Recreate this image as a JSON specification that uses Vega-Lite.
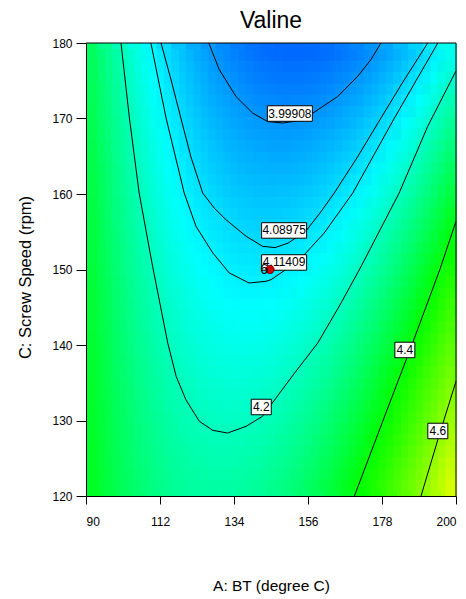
{
"$schema":"https://vega.github.io/schema/vega-lite/v6.json",
"width":370,"height":453,
"autosize":{"type":"none"},
"padding":{"left":86,"top":43,"right":10,"bottom":103},
"background":"white",
"title":{"text":"Valine","fontSize":23,"font":"Liberation Sans","fontWeight":"normal","color":"black","anchor":"middle","offset":4},
"config":{"font":"Liberation Sans","view":{"stroke":null},"axis":{"grid":false,"domainColor":"black","tickColor":"black","labelColor":"black","titleColor":"black","titleFontWeight":"normal","labelFont":"Liberation Sans","titleFont":"Liberation Sans"}},
"datasets":{
"grid":[
{"A":90,"C":120,"v":4.361},{"A":94.4,"C":120,"v":4.331},{"A":98.8,"C":120,"v":4.304},{"A":103.2,"C":120,"v":4.281},{"A":107.6,"C":120,"v":4.263},{"A":112,"C":120,"v":4.247},{"A":116.4,"C":120,"v":4.236},{"A":120.8,"C":120,"v":4.229},{"A":125.2,"C":120,"v":4.225},{"A":129.6,"C":120,"v":4.225},{"A":134,"C":120,"v":4.229},{"A":138.4,"C":120,"v":4.237},{"A":142.8,"C":120,"v":4.249},{"A":147.2,"C":120,"v":4.265},{"A":151.6,"C":120,"v":4.284},{"A":156,"C":120,"v":4.307},{"A":160.4,"C":120,"v":4.335},{"A":164.8,"C":120,"v":4.366},{"A":169.2,"C":120,"v":4.400},{"A":173.6,"C":120,"v":4.439},{"A":178,"C":120,"v":4.481},{"A":182.4,"C":120,"v":4.528},{"A":186.8,"C":120,"v":4.578},{"A":191.2,"C":120,"v":4.632},{"A":195.6,"C":120,"v":4.690},
{"A":90,"C":123,"v":4.360},{"A":94.4,"C":123,"v":4.328},{"A":98.8,"C":123,"v":4.301},{"A":103.2,"C":123,"v":4.277},{"A":107.6,"C":123,"v":4.257},{"A":112,"C":123,"v":4.241},{"A":116.4,"C":123,"v":4.228},{"A":120.8,"C":123,"v":4.220},{"A":125.2,"C":123,"v":4.215},{"A":129.6,"C":123,"v":4.214},{"A":134,"C":123,"v":4.217},{"A":138.4,"C":123,"v":4.224},{"A":142.8,"C":123,"v":4.235},{"A":147.2,"C":123,"v":4.249},{"A":151.6,"C":123,"v":4.268},{"A":156,"C":123,"v":4.290},{"A":160.4,"C":123,"v":4.316},{"A":164.8,"C":123,"v":4.346},{"A":169.2,"C":123,"v":4.380},{"A":173.6,"C":123,"v":4.417},{"A":178,"C":123,"v":4.459},{"A":182.4,"C":123,"v":4.504},{"A":186.8,"C":123,"v":4.553},{"A":191.2,"C":123,"v":4.606},{"A":195.6,"C":123,"v":4.663},
{"A":90,"C":126,"v":4.358},{"A":94.4,"C":126,"v":4.326},{"A":98.8,"C":126,"v":4.297},{"A":103.2,"C":126,"v":4.272},{"A":107.6,"C":126,"v":4.251},{"A":112,"C":126,"v":4.234},{"A":116.4,"C":126,"v":4.220},{"A":120.8,"C":126,"v":4.211},{"A":125.2,"C":126,"v":4.205},{"A":129.6,"C":126,"v":4.203},{"A":134,"C":126,"v":4.205},{"A":138.4,"C":126,"v":4.211},{"A":142.8,"C":126,"v":4.220},{"A":147.2,"C":126,"v":4.234},{"A":151.6,"C":126,"v":4.251},{"A":156,"C":126,"v":4.272},{"A":160.4,"C":126,"v":4.297},{"A":164.8,"C":126,"v":4.326},{"A":169.2,"C":126,"v":4.359},{"A":173.6,"C":126,"v":4.396},{"A":178,"C":126,"v":4.436},{"A":182.4,"C":126,"v":4.480},{"A":186.8,"C":126,"v":4.528},{"A":191.2,"C":126,"v":4.580},{"A":195.6,"C":126,"v":4.636},
{"A":90,"C":129,"v":4.356},{"A":94.4,"C":129,"v":4.323},{"A":98.8,"C":129,"v":4.293},{"A":103.2,"C":129,"v":4.267},{"A":107.6,"C":129,"v":4.245},{"A":112,"C":129,"v":4.226},{"A":116.4,"C":129,"v":4.212},{"A":120.8,"C":129,"v":4.201},{"A":125.2,"C":129,"v":4.195},{"A":129.6,"C":129,"v":4.192},{"A":134,"C":129,"v":4.193},{"A":138.4,"C":129,"v":4.197},{"A":142.8,"C":129,"v":4.206},{"A":147.2,"C":129,"v":4.218},{"A":151.6,"C":129,"v":4.235},{"A":156,"C":129,"v":4.255},{"A":160.4,"C":129,"v":4.279},{"A":164.8,"C":129,"v":4.307},{"A":169.2,"C":129,"v":4.338},{"A":173.6,"C":129,"v":4.374},{"A":178,"C":129,"v":4.413},{"A":182.4,"C":129,"v":4.456},{"A":186.8,"C":129,"v":4.503},{"A":191.2,"C":129,"v":4.554},{"A":195.6,"C":129,"v":4.609},
{"A":90,"C":132,"v":4.354},{"A":94.4,"C":132,"v":4.320},{"A":98.8,"C":132,"v":4.289},{"A":103.2,"C":132,"v":4.262},{"A":107.6,"C":132,"v":4.238},{"A":112,"C":132,"v":4.219},{"A":116.4,"C":132,"v":4.204},{"A":120.8,"C":132,"v":4.192},{"A":125.2,"C":132,"v":4.184},{"A":129.6,"C":132,"v":4.180},{"A":134,"C":132,"v":4.180},{"A":138.4,"C":132,"v":4.184},{"A":142.8,"C":132,"v":4.191},{"A":147.2,"C":132,"v":4.203},{"A":151.6,"C":132,"v":4.218},{"A":156,"C":132,"v":4.237},{"A":160.4,"C":132,"v":4.260},{"A":164.8,"C":132,"v":4.286},{"A":169.2,"C":132,"v":4.317},{"A":173.6,"C":132,"v":4.351},{"A":178,"C":132,"v":4.390},{"A":182.4,"C":132,"v":4.432},{"A":186.8,"C":132,"v":4.478},{"A":191.2,"C":132,"v":4.528},{"A":195.6,"C":132,"v":4.581},
{"A":90,"C":135,"v":4.351},{"A":94.4,"C":135,"v":4.316},{"A":98.8,"C":135,"v":4.284},{"A":103.2,"C":135,"v":4.256},{"A":107.6,"C":135,"v":4.232},{"A":112,"C":135,"v":4.211},{"A":116.4,"C":135,"v":4.195},{"A":120.8,"C":135,"v":4.182},{"A":125.2,"C":135,"v":4.173},{"A":129.6,"C":135,"v":4.168},{"A":134,"C":135,"v":4.167},{"A":138.4,"C":135,"v":4.170},{"A":142.8,"C":135,"v":4.176},{"A":147.2,"C":135,"v":4.187},{"A":151.6,"C":135,"v":4.201},{"A":156,"C":135,"v":4.219},{"A":160.4,"C":135,"v":4.241},{"A":164.8,"C":135,"v":4.267},{"A":169.2,"C":135,"v":4.296},{"A":173.6,"C":135,"v":4.330},{"A":178,"C":135,"v":4.367},{"A":182.4,"C":135,"v":4.408},{"A":186.8,"C":135,"v":4.453},{"A":191.2,"C":135,"v":4.502},{"A":195.6,"C":135,"v":4.554},
{"A":90,"C":138,"v":4.349},{"A":94.4,"C":138,"v":4.312},{"A":98.8,"C":138,"v":4.279},{"A":103.2,"C":138,"v":4.250},{"A":107.6,"C":138,"v":4.225},{"A":112,"C":138,"v":4.204},{"A":116.4,"C":138,"v":4.186},{"A":120.8,"C":138,"v":4.172},{"A":125.2,"C":138,"v":4.162},{"A":129.6,"C":138,"v":4.156},{"A":134,"C":138,"v":4.154},{"A":138.4,"C":138,"v":4.156},{"A":142.8,"C":138,"v":4.161},{"A":147.2,"C":138,"v":4.171},{"A":151.6,"C":138,"v":4.184},{"A":156,"C":138,"v":4.201},{"A":160.4,"C":138,"v":4.222},{"A":164.8,"C":138,"v":4.246},{"A":169.2,"C":138,"v":4.275},{"A":173.6,"C":138,"v":4.307},{"A":178,"C":138,"v":4.343},{"A":182.4,"C":138,"v":4.383},{"A":186.8,"C":138,"v":4.427},{"A":191.2,"C":138,"v":4.475},{"A":195.6,"C":138,"v":4.526},
{"A":90,"C":141,"v":4.346},{"A":94.4,"C":141,"v":4.309},{"A":98.8,"C":141,"v":4.275},{"A":103.2,"C":141,"v":4.244},{"A":107.6,"C":141,"v":4.218},{"A":112,"C":141,"v":4.196},{"A":116.4,"C":141,"v":4.177},{"A":120.8,"C":141,"v":4.162},{"A":125.2,"C":141,"v":4.151},{"A":129.6,"C":141,"v":4.144},{"A":134,"C":141,"v":4.141},{"A":138.4,"C":141,"v":4.141},{"A":142.8,"C":141,"v":4.146},{"A":147.2,"C":141,"v":4.154},{"A":151.6,"C":141,"v":4.166},{"A":156,"C":141,"v":4.182},{"A":160.4,"C":141,"v":4.202},{"A":164.8,"C":141,"v":4.226},{"A":169.2,"C":141,"v":4.253},{"A":173.6,"C":141,"v":4.284},{"A":178,"C":141,"v":4.319},{"A":182.4,"C":141,"v":4.358},{"A":186.8,"C":141,"v":4.401},{"A":191.2,"C":141,"v":4.448},{"A":195.6,"C":141,"v":4.498},
{"A":90,"C":144,"v":4.344},{"A":94.4,"C":144,"v":4.305},{"A":98.8,"C":144,"v":4.270},{"A":103.2,"C":144,"v":4.238},{"A":107.6,"C":144,"v":4.211},{"A":112,"C":144,"v":4.188},{"A":116.4,"C":144,"v":4.168},{"A":120.8,"C":144,"v":4.152},{"A":125.2,"C":144,"v":4.140},{"A":129.6,"C":144,"v":4.132},{"A":134,"C":144,"v":4.128},{"A":138.4,"C":144,"v":4.127},{"A":142.8,"C":144,"v":4.130},{"A":147.2,"C":144,"v":4.138},{"A":151.6,"C":144,"v":4.149},{"A":156,"C":144,"v":4.164},{"A":160.4,"C":144,"v":4.182},{"A":164.8,"C":144,"v":4.205},{"A":169.2,"C":144,"v":4.231},{"A":173.6,"C":144,"v":4.261},{"A":178,"C":144,"v":4.296},{"A":182.4,"C":144,"v":4.333},{"A":186.8,"C":144,"v":4.375},{"A":191.2,"C":144,"v":4.421},{"A":195.6,"C":144,"v":4.470},
{"A":90,"C":147,"v":4.341},{"A":94.4,"C":147,"v":4.301},{"A":98.8,"C":147,"v":4.265},{"A":103.2,"C":147,"v":4.232},{"A":107.6,"C":147,"v":4.204},{"A":112,"C":147,"v":4.179},{"A":116.4,"C":147,"v":4.159},{"A":120.8,"C":147,"v":4.142},{"A":125.2,"C":147,"v":4.129},{"A":129.6,"C":147,"v":4.119},{"A":134,"C":147,"v":4.114},{"A":138.4,"C":147,"v":4.112},{"A":142.8,"C":147,"v":4.115},{"A":147.2,"C":147,"v":4.121},{"A":151.6,"C":147,"v":4.131},{"A":156,"C":147,"v":4.145},{"A":160.4,"C":147,"v":4.162},{"A":164.8,"C":147,"v":4.184},{"A":169.2,"C":147,"v":4.209},{"A":173.6,"C":147,"v":4.238},{"A":178,"C":147,"v":4.271},{"A":182.4,"C":147,"v":4.308},{"A":186.8,"C":147,"v":4.349},{"A":191.2,"C":147,"v":4.394},{"A":195.6,"C":147,"v":4.442},
{"A":90,"C":150,"v":4.337},{"A":94.4,"C":150,"v":4.296},{"A":98.8,"C":150,"v":4.259},{"A":103.2,"C":150,"v":4.226},{"A":107.6,"C":150,"v":4.196},{"A":112,"C":150,"v":4.171},{"A":116.4,"C":150,"v":4.149},{"A":120.8,"C":150,"v":4.131},{"A":125.2,"C":150,"v":4.117},{"A":129.6,"C":150,"v":4.107},{"A":134,"C":150,"v":4.100},{"A":138.4,"C":150,"v":4.098},{"A":142.8,"C":150,"v":4.099},{"A":147.2,"C":150,"v":4.104},{"A":151.6,"C":150,"v":4.113},{"A":156,"C":150,"v":4.126},{"A":160.4,"C":150,"v":4.142},{"A":164.8,"C":150,"v":4.163},{"A":169.2,"C":150,"v":4.187},{"A":173.6,"C":150,"v":4.215},{"A":178,"C":150,"v":4.247},{"A":182.4,"C":150,"v":4.283},{"A":186.8,"C":150,"v":4.323},{"A":191.2,"C":150,"v":4.366},{"A":195.6,"C":150,"v":4.413},
{"A":90,"C":153,"v":4.334},{"A":94.4,"C":153,"v":4.292},{"A":98.8,"C":153,"v":4.254},{"A":103.2,"C":153,"v":4.219},{"A":107.6,"C":153,"v":4.189},{"A":112,"C":153,"v":4.162},{"A":116.4,"C":153,"v":4.139},{"A":120.8,"C":153,"v":4.120},{"A":125.2,"C":153,"v":4.105},{"A":129.6,"C":153,"v":4.094},{"A":134,"C":153,"v":4.086},{"A":138.4,"C":153,"v":4.083},{"A":142.8,"C":153,"v":4.083},{"A":147.2,"C":153,"v":4.087},{"A":151.6,"C":153,"v":4.095},{"A":156,"C":153,"v":4.106},{"A":160.4,"C":153,"v":4.122},{"A":164.8,"C":153,"v":4.141},{"A":169.2,"C":153,"v":4.165},{"A":173.6,"C":153,"v":4.192},{"A":178,"C":153,"v":4.223},{"A":182.4,"C":153,"v":4.257},{"A":186.8,"C":153,"v":4.296},{"A":191.2,"C":153,"v":4.338},{"A":195.6,"C":153,"v":4.385},
{"A":90,"C":156,"v":4.330},{"A":94.4,"C":156,"v":4.287},{"A":98.8,"C":156,"v":4.248},{"A":103.2,"C":156,"v":4.213},{"A":107.6,"C":156,"v":4.181},{"A":112,"C":156,"v":4.153},{"A":116.4,"C":156,"v":4.129},{"A":120.8,"C":156,"v":4.109},{"A":125.2,"C":156,"v":4.093},{"A":129.6,"C":156,"v":4.081},{"A":134,"C":156,"v":4.072},{"A":138.4,"C":156,"v":4.067},{"A":142.8,"C":156,"v":4.067},{"A":147.2,"C":156,"v":4.070},{"A":151.6,"C":156,"v":4.076},{"A":156,"C":156,"v":4.087},{"A":160.4,"C":156,"v":4.102},{"A":164.8,"C":156,"v":4.120},{"A":169.2,"C":156,"v":4.142},{"A":173.6,"C":156,"v":4.168},{"A":178,"C":156,"v":4.198},{"A":182.4,"C":156,"v":4.232},{"A":186.8,"C":156,"v":4.269},{"A":191.2,"C":156,"v":4.311},{"A":195.6,"C":156,"v":4.356},
{"A":90,"C":159,"v":4.327},{"A":94.4,"C":159,"v":4.282},{"A":98.8,"C":159,"v":4.242},{"A":103.2,"C":159,"v":4.206},{"A":107.6,"C":159,"v":4.173},{"A":112,"C":159,"v":4.144},{"A":116.4,"C":159,"v":4.119},{"A":120.8,"C":159,"v":4.098},{"A":125.2,"C":159,"v":4.081},{"A":129.6,"C":159,"v":4.067},{"A":134,"C":159,"v":4.058},{"A":138.4,"C":159,"v":4.052},{"A":142.8,"C":159,"v":4.050},{"A":147.2,"C":159,"v":4.052},{"A":151.6,"C":159,"v":4.058},{"A":156,"C":159,"v":4.067},{"A":160.4,"C":159,"v":4.081},{"A":164.8,"C":159,"v":4.098},{"A":169.2,"C":159,"v":4.119},{"A":173.6,"C":159,"v":4.144},{"A":178,"C":159,"v":4.173},{"A":182.4,"C":159,"v":4.206},{"A":186.8,"C":159,"v":4.242},{"A":191.2,"C":159,"v":4.282},{"A":195.6,"C":159,"v":4.327},
{"A":90,"C":162,"v":4.323},{"A":94.4,"C":162,"v":4.278},{"A":98.8,"C":162,"v":4.236},{"A":103.2,"C":162,"v":4.199},{"A":107.6,"C":162,"v":4.165},{"A":112,"C":162,"v":4.135},{"A":116.4,"C":162,"v":4.109},{"A":120.8,"C":162,"v":4.087},{"A":125.2,"C":162,"v":4.069},{"A":129.6,"C":162,"v":4.054},{"A":134,"C":162,"v":4.043},{"A":138.4,"C":162,"v":4.037},{"A":142.8,"C":162,"v":4.034},{"A":147.2,"C":162,"v":4.034},{"A":151.6,"C":162,"v":4.039},{"A":156,"C":162,"v":4.048},{"A":160.4,"C":162,"v":4.060},{"A":164.8,"C":162,"v":4.076},{"A":169.2,"C":162,"v":4.096},{"A":173.6,"C":162,"v":4.120},{"A":178,"C":162,"v":4.148},{"A":182.4,"C":162,"v":4.180},{"A":186.8,"C":162,"v":4.215},{"A":191.2,"C":162,"v":4.254},{"A":195.6,"C":162,"v":4.297},
{"A":90,"C":165,"v":4.319},{"A":94.4,"C":165,"v":4.272},{"A":98.8,"C":165,"v":4.230},{"A":103.2,"C":165,"v":4.191},{"A":107.6,"C":165,"v":4.157},{"A":112,"C":165,"v":4.126},{"A":116.4,"C":165,"v":4.099},{"A":120.8,"C":165,"v":4.075},{"A":125.2,"C":165,"v":4.056},{"A":129.6,"C":165,"v":4.040},{"A":134,"C":165,"v":4.029},{"A":138.4,"C":165,"v":4.021},{"A":142.8,"C":165,"v":4.017},{"A":147.2,"C":165,"v":4.017},{"A":151.6,"C":165,"v":4.020},{"A":156,"C":165,"v":4.028},{"A":160.4,"C":165,"v":4.039},{"A":164.8,"C":165,"v":4.054},{"A":169.2,"C":165,"v":4.073},{"A":173.6,"C":165,"v":4.096},{"A":178,"C":165,"v":4.123},{"A":182.4,"C":165,"v":4.153},{"A":186.8,"C":165,"v":4.188},{"A":191.2,"C":165,"v":4.226},{"A":195.6,"C":165,"v":4.268},
{"A":90,"C":168,"v":4.314},{"A":94.4,"C":168,"v":4.267},{"A":98.8,"C":168,"v":4.224},{"A":103.2,"C":168,"v":4.184},{"A":107.6,"C":168,"v":4.148},{"A":112,"C":168,"v":4.116},{"A":116.4,"C":168,"v":4.088},{"A":120.8,"C":168,"v":4.064},{"A":125.2,"C":168,"v":4.043},{"A":129.6,"C":168,"v":4.027},{"A":134,"C":168,"v":4.014},{"A":138.4,"C":168,"v":4.005},{"A":142.8,"C":168,"v":4.000},{"A":147.2,"C":168,"v":3.999},{"A":151.6,"C":168,"v":4.001},{"A":156,"C":168,"v":4.008},{"A":160.4,"C":168,"v":4.018},{"A":164.8,"C":168,"v":4.032},{"A":169.2,"C":168,"v":4.050},{"A":173.6,"C":168,"v":4.072},{"A":178,"C":168,"v":4.097},{"A":182.4,"C":168,"v":4.127},{"A":186.8,"C":168,"v":4.160},{"A":191.2,"C":168,"v":4.197},{"A":195.6,"C":168,"v":4.238},
{"A":90,"C":171,"v":4.310},{"A":94.4,"C":171,"v":4.261},{"A":98.8,"C":171,"v":4.217},{"A":103.2,"C":171,"v":4.176},{"A":107.6,"C":171,"v":4.139},{"A":112,"C":171,"v":4.106},{"A":116.4,"C":171,"v":4.077},{"A":120.8,"C":171,"v":4.052},{"A":125.2,"C":171,"v":4.030},{"A":129.6,"C":171,"v":4.013},{"A":134,"C":171,"v":3.999},{"A":138.4,"C":171,"v":3.989},{"A":142.8,"C":171,"v":3.983},{"A":147.2,"C":171,"v":3.980},{"A":151.6,"C":171,"v":3.982},{"A":156,"C":171,"v":3.987},{"A":160.4,"C":171,"v":3.996},{"A":164.8,"C":171,"v":4.010},{"A":169.2,"C":171,"v":4.026},{"A":173.6,"C":171,"v":4.047},{"A":178,"C":171,"v":4.072},{"A":182.4,"C":171,"v":4.100},{"A":186.8,"C":171,"v":4.132},{"A":191.2,"C":171,"v":4.169},{"A":195.6,"C":171,"v":4.208},
{"A":90,"C":174,"v":4.305},{"A":94.4,"C":174,"v":4.256},{"A":98.8,"C":174,"v":4.210},{"A":103.2,"C":174,"v":4.168},{"A":107.6,"C":174,"v":4.130},{"A":112,"C":174,"v":4.096},{"A":116.4,"C":174,"v":4.066},{"A":120.8,"C":174,"v":4.040},{"A":125.2,"C":174,"v":4.017},{"A":129.6,"C":174,"v":3.998},{"A":134,"C":174,"v":3.984},{"A":138.4,"C":174,"v":3.972},{"A":142.8,"C":174,"v":3.965},{"A":147.2,"C":174,"v":3.962},{"A":151.6,"C":174,"v":3.962},{"A":156,"C":174,"v":3.967},{"A":160.4,"C":174,"v":3.975},{"A":164.8,"C":174,"v":3.987},{"A":169.2,"C":174,"v":4.003},{"A":173.6,"C":174,"v":4.022},{"A":178,"C":174,"v":4.046},{"A":182.4,"C":174,"v":4.073},{"A":186.8,"C":174,"v":4.105},{"A":191.2,"C":174,"v":4.140},{"A":195.6,"C":174,"v":4.178},
{"A":90,"C":177,"v":4.300},{"A":94.4,"C":177,"v":4.250},{"A":98.8,"C":177,"v":4.203},{"A":103.2,"C":177,"v":4.160},{"A":107.6,"C":177,"v":4.121},{"A":112,"C":177,"v":4.086},{"A":116.4,"C":177,"v":4.055},{"A":120.8,"C":177,"v":4.027},{"A":125.2,"C":177,"v":4.004},{"A":129.6,"C":177,"v":3.984},{"A":134,"C":177,"v":3.968},{"A":138.4,"C":177,"v":3.956},{"A":142.8,"C":177,"v":3.948},{"A":147.2,"C":177,"v":3.943},{"A":151.6,"C":177,"v":3.943},{"A":156,"C":177,"v":3.946},{"A":160.4,"C":177,"v":3.953},{"A":164.8,"C":177,"v":3.964},{"A":169.2,"C":177,"v":3.979},{"A":173.6,"C":177,"v":3.998},{"A":178,"C":177,"v":4.020},{"A":182.4,"C":177,"v":4.046},{"A":186.8,"C":177,"v":4.076},{"A":191.2,"C":177,"v":4.110},{"A":195.6,"C":177,"v":4.148}
],
"contours":[
{"lev":"3.99908","A":126.5,"C":180},{"lev":"3.99908","A":129.6,"C":176.5},{"lev":"3.99908","A":134.6,"C":172.9},{"lev":"3.99908","A":139.6,"C":170.7},{"lev":"3.99908","A":144.0,"C":169.6},{"lev":"3.99908","A":148.6,"C":169.4},{"lev":"3.99908","A":153.0,"C":169.7},{"lev":"3.99908","A":157.4,"C":170.7},{"lev":"3.99908","A":164.8,"C":172.9},{"lev":"3.99908","A":170.8,"C":175.6},{"lev":"3.99908","A":174.7,"C":177.8},{"lev":"3.99908","A":177.7,"C":180},
{"lev":"4.08975","A":112.3,"C":180},{"lev":"4.08975","A":115.3,"C":175.1},{"lev":"4.08975","A":118.2,"C":170.07},{"lev":"4.08975","A":121.2,"C":164.9},{"lev":"4.08975","A":124.7,"C":160.13},{"lev":"4.08975","A":128.1,"C":158.15},{"lev":"4.08975","A":131.6,"C":156.6},{"lev":"4.08975","A":137.6,"C":154.4},{"lev":"4.08975","A":142.5,"C":153.07},{"lev":"4.08975","A":146.2,"C":152.9},{"lev":"4.08975","A":150.1,"C":153.5},{"lev":"4.08975","A":155.4,"C":155.1},{"lev":"4.08975","A":159.6,"C":157.5},{"lev":"4.08975","A":163.8,"C":160.13},{"lev":"4.08975","A":170.9,"C":165.03},{"lev":"4.08975","A":177.7,"C":170.07},{"lev":"4.08975","A":184.2,"C":174.83},{"lev":"4.08975","A":191.6,"C":180},
{"lev":"4.11409","A":109.3,"C":180},{"lev":"4.11409","A":113.8,"C":170.07},{"lev":"4.11409","A":119.2,"C":160.13},{"lev":"4.11409","A":122.7,"C":155.72},{"lev":"4.11409","A":127.7,"C":152.19},{"lev":"4.11409","A":132.6,"C":149.54},{"lev":"4.11409","A":138.5,"C":148.21},{"lev":"4.11409","A":143.5,"C":148.44},{"lev":"4.11409","A":145.0,"C":148.65},{"lev":"4.11409","A":150.1,"C":150.2},{"lev":"4.11409","A":154.9,"C":151.96},{"lev":"4.11409","A":160.8,"C":154.83},{"lev":"4.11409","A":169.3,"C":160.13},{"lev":"4.11409","A":181.7,"C":170.07},{"lev":"4.11409","A":194.6,"C":180},
{"lev":"4.2","A":100.4,"C":180},{"lev":"4.2","A":102.9,"C":170.07},{"lev":"4.2","A":105.8,"C":160.13},{"lev":"4.2","A":109.8,"C":150.42},{"lev":"4.2","A":114.3,"C":140.27},{"lev":"4.2","A":116.8,"C":135.85},{"lev":"4.2","A":119.7,"C":132.75},{"lev":"4.2","A":123.7,"C":129.89},{"lev":"4.2","A":127.7,"C":128.7},{"lev":"4.2","A":132.1,"C":128.34},{"lev":"4.2","A":137.6,"C":129.23},{"lev":"4.2","A":142.5,"C":130.56},{"lev":"4.2","A":145.0,"C":132.09},{"lev":"4.2","A":151.8,"C":136.16},{"lev":"4.2","A":158.9,"C":140.27},{"lev":"4.2","A":165.5,"C":145.3},{"lev":"4.2","A":171.8,"C":150.42},{"lev":"4.2","A":183.1,"C":160.13},{"lev":"4.2","A":191.6,"C":168.97},{"lev":"4.2","A":200,"C":176.3},
{"lev":"4.4","A":169.8,"C":120},{"lev":"4.4","A":178.3,"C":130},{"lev":"4.4","A":187.1,"C":140.27},{"lev":"4.4","A":195.2,"C":150},{"lev":"4.4","A":200,"C":156.38},
{"lev":"4.6","A":189.6,"C":120},{"lev":"4.6","A":194.6,"C":127.46},{"lev":"4.6","A":200,"C":135.2}
],
"labels":[
{"A":150.6,"C":170.66,"t":"3.99908"},{"A":148.9,"C":155.17,"t":"4.08975"},{"A":148.9,"C":150.93,"t":"4.11409"},{"A":142.1,"C":131.79,"t":"4.2"},{"A":184.8,"C":139.34,"t":"4.4"},{"A":194.6,"C":128.61,"t":"4.6"}
],
"pt":[{"A":144.7,"C":150,"t":"6"}]
},
"layer":[
{"data":{"name":"grid"},
 "mark":{"type":"rect","strokeWidth":0.6},
 "encoding":{
  "x":{"field":"A","type":"quantitative","bin":{"binned":true,"step":4.4},"scale":{"domain":[90,200],"nice":false,"zero":false}},
  "y":{"field":"C","type":"quantitative","bin":{"binned":true,"step":3},"scale":{"domain":[120,180],"nice":false,"zero":false}},
  "color":{"field":"v","type":"quantitative","scale":{"domain":[3.8125,4.13,4.40,4.75],"range":["#0000ff","#00ffff","#00ff00","#ffff00"],"interpolate":"rgb"},"legend":null},
  "stroke":{"field":"v","type":"quantitative","scale":{"domain":[3.8125,4.13,4.40,4.75],"range":["#0000ff","#00ffff","#00ff00","#ffff00"],"interpolate":"rgb"},"legend":null}
 }},
{"data":{"name":"grid"},
 "mark":{"type":"rect","strokeWidth":0.6,"xOffset":-3.7,"yOffset":-5.66,"clip":true},
 "encoding":{
  "x":{"field":"A","type":"quantitative","bin":{"binned":true,"step":4.4}},
  "y":{"field":"C","type":"quantitative","bin":{"binned":true,"step":3}},
  "color":{"field":"v","type":"quantitative","legend":null},
  "stroke":{"field":"v","type":"quantitative","legend":null}
 }},
{"data":{"name":"grid"},
 "mark":{"type":"rect","strokeWidth":0,"opacity":0.5,"xOffset":3.7,"yOffset":5.66,"clip":true},
 "encoding":{
  "x":{"field":"A","type":"quantitative","bin":{"binned":true,"step":4.4}},
  "y":{"field":"C","type":"quantitative","bin":{"binned":true,"step":3}},
  "color":{"field":"v","type":"quantitative","legend":null}
 }},
{"data":{"name":"contours"},
 "mark":{"type":"line","color":"black","strokeWidth":1},
 "encoding":{
  "x":{"field":"A","type":"quantitative","title":"A: BT (degree C)",
       "axis":{"values":[90,112,134,156,178,200],"format":"d","tickSize":8,"labelPadding":12,"labelFontSize":12,"titleFontSize":15.5,"titleY":94,"titleBaseline":"alphabetic"}},
  "y":{"field":"C","type":"quantitative","title":"C: Screw Speed (rpm)",
       "axis":{"values":[120,130,140,150,160,170,180],"format":"d","tickSize":10,"labelPadding":4,"labelFontSize":12,"titleFontSize":16.5,"titleX":-56,"titleY":234,"titleAngle":270,"titleAlign":"center","titleBaseline":"alphabetic"}},
  "detail":{"field":"lev","type":"nominal"}
 }},
{"data":{"values":[{}]},"mark":{"type":"rule","color":"black","strokeWidth":1},"encoding":{"y":{"datum":180,"type":"quantitative"}}},
{"data":{"values":[{}]},"mark":{"type":"rule","color":"black","strokeWidth":1},"encoding":{"x":{"datum":200,"type":"quantitative"}}},
{"data":{"name":"labels"},
 "transform":[{"filter":"length(datum.t) > 3"}],
 "mark":{"type":"point","shape":"M-0.9,-0.31H0.9V0.31H-0.9Z","size":2500,"filled":true,"fill":"white","stroke":"black","strokeWidth":1,"opacity":1},
 "encoding":{"x":{"field":"A","type":"quantitative"},"y":{"field":"C","type":"quantitative"}}},
{"data":{"name":"labels"},
 "transform":[{"filter":"length(datum.t) <= 3"}],
 "mark":{"type":"point","shape":"M-0.4,-0.31H0.4V0.31H-0.4Z","size":2500,"filled":true,"fill":"white","stroke":"black","strokeWidth":1,"opacity":1},
 "encoding":{"x":{"field":"A","type":"quantitative"},"y":{"field":"C","type":"quantitative"}}},
{"data":{"name":"labels"},
 "mark":{"type":"text","fontSize":12,"color":"black","align":"center","baseline":"middle"},
 "encoding":{"x":{"field":"A","type":"quantitative"},"y":{"field":"C","type":"quantitative"},"text":{"field":"t"}}},
{"data":{"name":"pt"},
 "mark":{"type":"point","shape":"circle","size":70,"filled":true,"fill":"#cc0000","stroke":"#5a0000","strokeWidth":0.8,"opacity":1},
 "encoding":{"x":{"field":"A","type":"quantitative"},"y":{"field":"C","type":"quantitative"}}},
{"data":{"name":"pt"},
 "mark":{"type":"text","fontSize":14,"color":"black","align":"right","baseline":"middle","dx":-2},
 "encoding":{"x":{"field":"A","type":"quantitative"},"y":{"field":"C","type":"quantitative"},"text":{"field":"t"}}}
]
}
